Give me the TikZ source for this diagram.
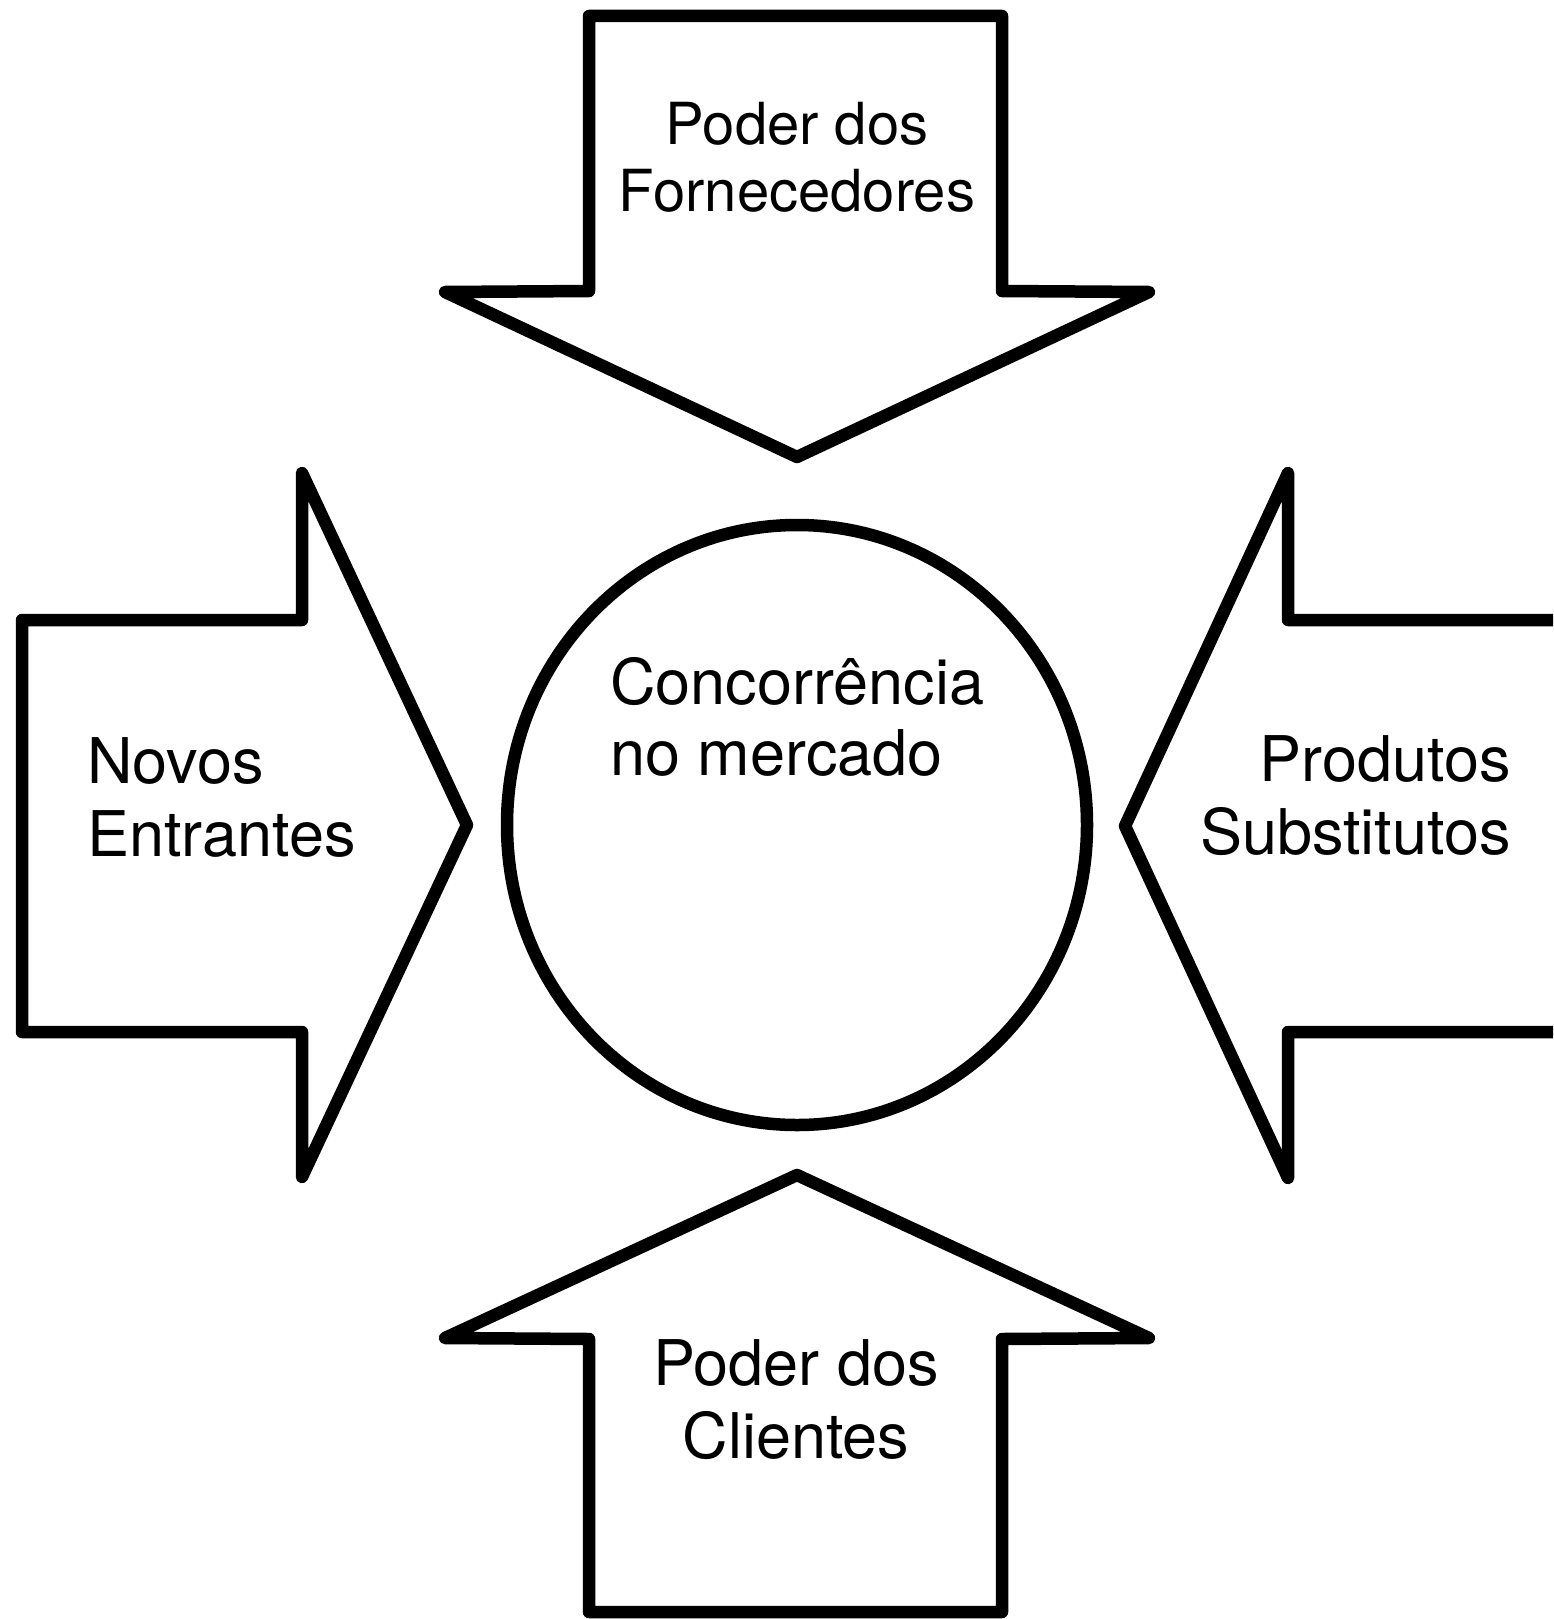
\documentclass[tikz,border=0pt]{standalone}
\usepackage{fontspec}
\newfontfamily\heros{TeX Gyre Heros}
\usetikzlibrary{shapes.geometric}

\begin{document}
\begin{tikzpicture}[x=1pt,y=-1pt,
  force arrow/.style={draw,line width=12.5pt,line join=round,fill=white},
  force label/.style={font=\heros\fontsize{63}{73}\selectfont,inner sep=0pt},
  main node/.style={ellipse,draw,line width=12.5pt,minimum width=580pt,minimum height=600pt}]
  \useasboundingbox (0,0) rectangle (1553,1619);
  \clip (0,0) rectangle (1553,1619);

  \node[main node] (mercado) at (797,825) {};

  % the four forces
  \draw[force arrow] (589,16) -- (1002,16) -- (1002,291) -- (1149,292) -- (797,457)
    -- (445,292) -- (589,291) -- cycle;
  \draw[force arrow] (22,620) -- (302,620) -- (302,473) -- (467,825) -- (302,1177)
    -- (302,1032) -- (22,1032) -- cycle;
  \draw[force arrow] (1620,620) -- (1288,620) -- (1288,473) -- (1125,826) -- (1288,1178)
    -- (1288,1032) -- (1620,1032) -- cycle;
  \draw[force arrow] (589,1612) -- (1002,1612) -- (1002,1339) -- (1149,1338) -- (797,1175)
    -- (445,1338) -- (589,1339) -- cycle;

  \node[force label,font=\heros\fontsize{58}{67}\selectfont,align=center] (fornecedores) at (797,157) {Poder dos\\Fornecedores};
  \node[force label,align=left,anchor=west] (entrantes) at (87,797) {Novos\\Entrantes};
  \node[force label,align=left,anchor=west,font=\heros\fontsize{63}{71}\selectfont] (concorrencia) at (610,717) {Concorrência\\no mercado};
  \node[force label,align=right,anchor=east] (substitutos) at (1511,796) {Produtos\\Substitutos};
  \node[force label,align=center] (clientes) at (796,1400) {Poder dos\\Clientes};

\end{tikzpicture}
\end{document}
